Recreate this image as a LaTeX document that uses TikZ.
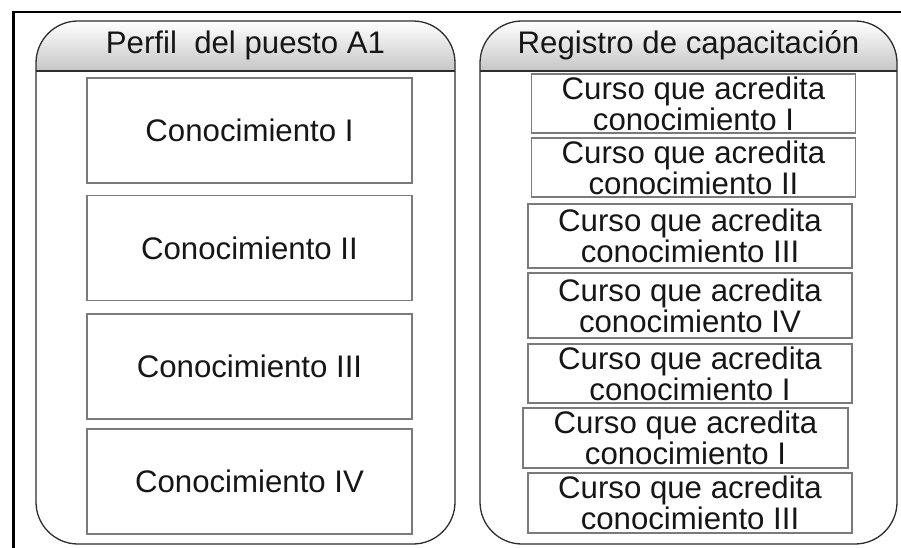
\documentclass[tikz,border=0pt]{standalone}
\usepackage{fontspec}
\setmainfont{Liberation Sans}
\definecolor{ink}{HTML}{161616}
\definecolor{edge}{HTML}{7A7A7A}
\begin{document}
\begin{tikzpicture}[x=1pt, y=-1pt]
  \useasboundingbox (0,0) rectangle (901,548);

  \tikzstyle{txt}=[text=ink, font=\fontsize{31.2}{31}\selectfont, inner sep=0pt]
  \tikzstyle{box}=[txt, draw=edge, line width=1.2pt, fill=white, minimum width=325pt, minimum height=105pt]
  \tikzstyle{course}=[txt, draw=edge, line width=1.2pt, fill=white, align=center, minimum width=324pt, minimum height=59pt]
  \tikzstyle{panel}=[draw=ink!90, line width=1.3pt, rounded corners=42pt]

  % page frame
  \draw[line width=3.5pt] (13.5,548) -- (13.5,12);
  \draw[line width=2pt] (12,12) -- (901,12);

  % left panel
  \shade[top color=white, bottom color=gray!45] (36,71) [rounded corners=42pt] -- (36,21) -- (455,21) [sharp corners] -- (455,71) -- cycle;
  \draw[panel] (36,21) rectangle (455,544);
  \draw[line width=1.3pt, ink!90] (36,71) -- (455,71);
  \node[txt] (perfil) at (245.5,45) {Perfil\ \ del puesto A1};

  \node[box] (k1) at (249.5,130.5) {Conocimiento I};
  \node[box] (k2) at (249.5,248) {Conocimiento II};
  \node[box] (k3) at (249.5,366.5) {Conocimiento III};
  \node[box] (k4) at (249.5,481.5) {Conocimiento IV};

  % right panel
  \shade[top color=white, bottom color=gray!45] (480,71) [rounded corners=42pt] -- (480,21) -- (897,21) [sharp corners] -- (897,71) -- cycle;
  \draw[panel] (480,21) rectangle (897,544);
  \draw[line width=1.3pt, ink!90] (480,71) -- (897,71);
  \node[txt] (registro) at (688.5,45) {Registro de capacitación};

  \node[course] (c1) at (693.5,103.5) {Curso que acredita\\conocimiento I};
  \node[course] (c2) at (693.5,167.5) {Curso que acredita\\conocimiento II};
  \node[course, minimum height=64pt] (c3) at (690,236) {Curso que acredita\\conocimiento III};
  \node[course, minimum height=65pt] (c4) at (690,305.5) {Curso que acredita\\conocimiento IV};
  \node[course] (c5) at (690,373.5) {Curso que acredita\\conocimiento I};
  \node[course, minimum width=325pt, minimum height=60pt] (c6) at (685.5,438) {Curso que acredita\\conocimiento I};
  \node[course, minimum height=60pt] (c7) at (690,503) {Curso que acredita\\conocimiento III};
\end{tikzpicture}
\end{document}
